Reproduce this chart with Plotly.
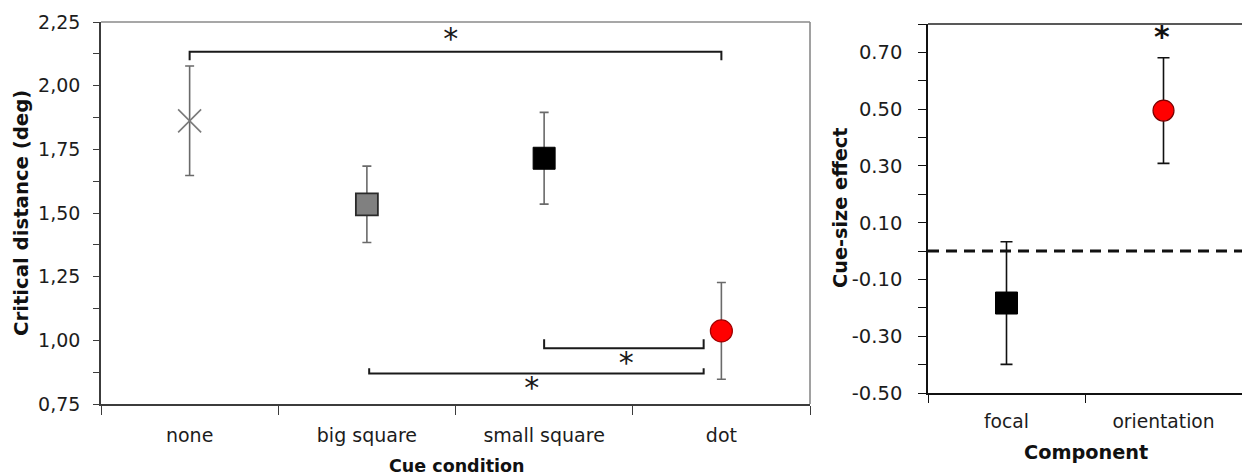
import plotly.graph_objects as go

# ---- Left panel: critical distance per cue condition ----
conditions = ["none", "big square", "small square", "dot"]
crit_mean = [1.862, 1.534, 1.715, 1.037]
crit_err = [0.215, 0.150, 0.180, 0.190]
crit_ticks = [0.75, 1.00, 1.25, 1.50, 1.75, 2.00, 2.25]
crit_ticktext = ["0,75", "1,00", "1,25", "1,50", "1,75", "2,00", "2,25"]

# significance brackets: (x0, x1, y of bar, y of end tips)
bracket_x0 = [0.0, 2.0, 1.013]
bracket_x1 = [3.0, 2.9, 2.9]
bracket_y = [2.133, 0.969, 0.870]
bracket_tip = [2.100, 1.004, 0.890]
# anchor points of the "*" labels (glyph sits above its text anchor)
star_x = [1.473, 2.463, 1.93]
star_y = [2.173, 0.901, 0.803]

# ---- Right panel: cue-size effect per component ----
components = ["focal", "orientation"]
effect_mean = [-0.183, 0.495]
effect_err = [0.216, 0.186]
effect_ticks = [-0.50, -0.30, -0.10, 0.10, 0.30, 0.50, 0.70]
effect_ticktext = ["-0.50", "-0.30", "-0.10", "0.10", "0.30", "0.50", "0.70"]
effect_star_x = [0.99]
effect_star_y = [0.746]

W, H = 1242, 476
FONT = "DejaVu Sans"
TXT = "#1c1c1c"

fig = go.Figure()

# left panel markers
left_styles = [
    dict(symbol="x-thin-open", size=23, color="#7a7a7a", line=dict(color="#7a7a7a", width=1.6)),
    dict(symbol="square", size=22, color="#808080", line=dict(color="#2a2a2a", width=1.8)),
    dict(symbol="square", size=22, color="#000000", line=dict(color="#000000", width=1)),
    dict(symbol="circle", size=22, color="#ff0000", line=dict(color="#a00000", width=1.2)),
]
for i, (m, e, st) in enumerate(zip(crit_mean, crit_err, left_styles)):
    fig.add_trace(go.Scatter(
        x=[i], y=[m], mode="markers", marker=st,
        error_y=dict(type="data", array=[e], color="#6a6a6a", thickness=1.6, width=4.5),
        xaxis="x", yaxis="y", showlegend=False, hoverinfo="skip",
    ))

# brackets
for x0, x1, yb, yt in zip(bracket_x0, bracket_x1, bracket_y, bracket_tip):
    fig.add_trace(go.Scatter(
        x=[x0, x0, x1, x1], y=[yt, yb, yb, yt], mode="lines",
        line=dict(color="#1a1a1a", width=2), xaxis="x", yaxis="y",
        showlegend=False, hoverinfo="skip",
    ))
fig.add_trace(go.Scatter(
    x=star_x, y=star_y, mode="text", text=["*"] * len(star_x),
    textposition="middle center", textfont=dict(family=FONT, size=30, color="#1a1a1a"),
    xaxis="x", yaxis="y", showlegend=False, hoverinfo="skip", cliponaxis=False,
))

# right panel markers
right_styles = [
    dict(symbol="square", size=22, color="#000000", line=dict(color="#000000", width=1)),
    dict(symbol="circle", size=21, color="#ff0000", line=dict(color="#7a0000", width=1.2)),
]
for i, (m, e, st) in enumerate(zip(effect_mean, effect_err, right_styles)):
    fig.add_trace(go.Scatter(
        x=[i], y=[m], mode="markers", marker=st,
        error_y=dict(type="data", array=[e], color="#111111", thickness=1.6, width=6),
        xaxis="x2", yaxis="y2", showlegend=False, hoverinfo="skip",
    ))
fig.add_trace(go.Scatter(
    x=effect_star_x, y=effect_star_y, mode="text", text=["<b>*</b>"],
    textposition="middle center", textfont=dict(family=FONT, size=30, color="#111111"),
    xaxis="x2", yaxis="y2", showlegend=False, hoverinfo="skip", cliponaxis=False,
))

# plot area placement (pixels -> paper)
L1, R1, T1, B1 = 101, 810, 22, 404
L2, R2, T2, B2 = 928, 1242, 24, 393
px = lambda v: v / W
py = lambda v: 1 - v / H

axis_common = dict(showgrid=False, zeroline=False, showline=True, linecolor="#3c3c3c",
                   linewidth=1.6, tickcolor="#3c3c3c", tickwidth=1.4, automargin=False)

fig.update_layout(
    width=W, height=H, margin=dict(l=0, r=0, t=0, b=0, autoexpand=False),
    paper_bgcolor="white", plot_bgcolor="white", showlegend=False,
    xaxis=dict(domain=[px(L1), px(R1)], range=[-0.5, 3.5], anchor="y",
               tickmode="array", tickvals=list(range(len(conditions))), ticktext=conditions,
               ticks="", ticklabelstandoff=13,
               minor=dict(tickmode="array", tickvals=[-0.5, 0.5, 1.5, 2.5, 3.5],
                          ticks="outside", ticklen=9, tickcolor="#3c3c3c", tickwidth=1.4),
               tickfont=dict(family=FONT, size=19, color=TXT), **axis_common),
    yaxis=dict(domain=[py(B1), py(T1)], range=[0.75, 2.25], anchor="x",
               tickmode="array", tickvals=crit_ticks, ticktext=crit_ticktext,
               ticks="outside", ticklen=6, ticklabelstandoff=9,
               minor=dict(tickmode="linear", tick0=0.75, dtick=0.125, ticks="outside",
                          ticklen=6, tickcolor="#3c3c3c", tickwidth=1.4),
               tickfont=dict(family=FONT, size=19, color=TXT), **axis_common),
    xaxis2=dict(domain=[px(L2), px(R2)], range=[-0.5, 1.5], anchor="y2",
                tickmode="array", tickvals=list(range(len(components))), ticktext=components,
                ticks="", ticklabelstandoff=11,
                minor=dict(tickmode="array", tickvals=[-0.5, 0.5, 1.5],
                           ticks="outside", ticklen=8, tickcolor="#111111", tickwidth=1.4),
                tickfont=dict(family=FONT, size=18.7, color=TXT),
                **{**axis_common, "linecolor": "#111111"}),
    yaxis2=dict(domain=[py(B2), py(T2)], range=[-0.5, 0.8], anchor="x2",
                tickmode="array", tickvals=effect_ticks, ticktext=effect_ticktext,
                ticks="outside", ticklen=8, ticklabelstandoff=12,
                minor=dict(tickmode="linear", tick0=-0.5, dtick=0.1, ticks="outside",
                           ticklen=8, tickcolor="#111111", tickwidth=1.4),
                tickfont=dict(family=FONT, size=19.5, color=TXT),
                **{**axis_common, "linecolor": "#111111", "tickcolor": "#111111"}),
)

# frame lines on top/right of the plot areas and zero reference line
fig.add_shape(type="line", xref="x domain", yref="y domain", x0=0, x1=1, y0=1, y1=1,
              line=dict(color="#8a8a8a", width=1.6))
fig.add_shape(type="line", xref="x domain", yref="y domain", x0=1, x1=1, y0=0, y1=1,
              line=dict(color="#8a8a8a", width=1.6))
fig.add_shape(type="line", xref="x2 domain", yref="y2 domain", x0=0, x1=1, y0=1, y1=1,
              line=dict(color="#222222", width=1.6))
fig.add_shape(type="line", xref="x2 domain", yref="y2", x0=0, x1=1, y0=0, y1=0,
              line=dict(color="#111111", width=3, dash="11px,7px"))

# axis titles
title_font = dict(family=FONT, color="#111111")
fig.add_annotation(text="<b>Critical distance (deg)</b>", xref="paper", yref="paper",
                   x=px(22), y=py(213), textangle=-90, showarrow=False,
                   font=dict(size=19.7, **title_font), xanchor="center", yanchor="middle")
fig.add_annotation(text="<b>Cue condition</b>", xref="paper", yref="paper",
                   x=px(457), y=py(466), showarrow=False,
                   font=dict(size=17.5, **title_font), xanchor="center", yanchor="middle")
fig.add_annotation(text="<b>Cue-size effect</b>", xref="paper", yref="paper",
                   x=px(840), y=py(208), textangle=-90, showarrow=False,
                   font=dict(size=19.3, **title_font), xanchor="center", yanchor="middle")
fig.add_annotation(text="<b>Component</b>", xref="paper", yref="paper",
                   x=px(1086), y=py(452), showarrow=False,
                   font=dict(size=19.3, **title_font), xanchor="center", yanchor="middle")

fig.write_html("out.html")
